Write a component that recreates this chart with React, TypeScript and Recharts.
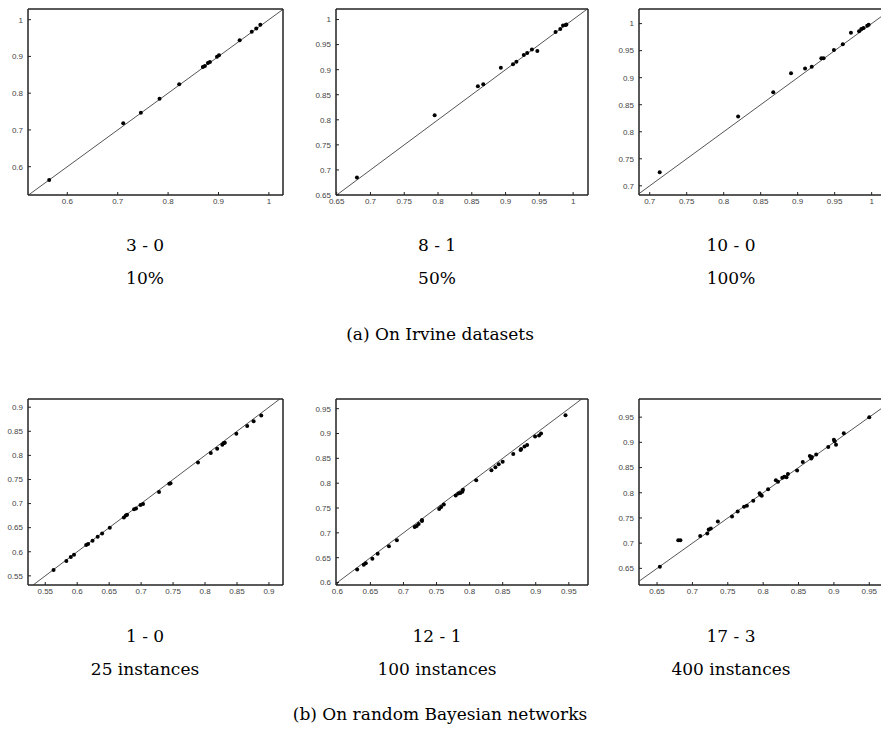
import React from 'react';
import { ScatterChart, Scatter, XAxis, YAxis, ReferenceLine, ReferenceArea } from 'recharts';

// (a) Irvine datasets
const irvine10X = [0.564, 0.711, 0.746, 0.783, 0.822, 0.869, 0.873, 0.879, 0.883, 0.897, 0.901, 0.942, 0.966, 0.975, 0.983];
const irvine10Y = [0.564, 0.718, 0.747, 0.785, 0.824, 0.871, 0.874, 0.882, 0.885, 0.899, 0.903, 0.944, 0.967, 0.976, 0.986];

const irvine50X = [0.680, 0.795, 0.859, 0.867, 0.893, 0.911, 0.916, 0.927, 0.932, 0.939, 0.947, 0.974, 0.981, 0.985, 0.989, 0.990];
const irvine50Y = [0.685, 0.809, 0.867, 0.871, 0.904, 0.911, 0.916, 0.929, 0.933, 0.940, 0.937, 0.975, 0.981, 0.988, 0.989, 0.990];

const irvine100X = [0.7135, 0.8195, 0.867, 0.891, 0.910, 0.919, 0.932, 0.935, 0.949, 0.961, 0.972, 0.983, 0.986, 0.989, 0.994, 0.996];
const irvine100Y = [0.725, 0.828, 0.873, 0.908, 0.917, 0.920, 0.936, 0.936, 0.951, 0.962, 0.983, 0.986, 0.990, 0.992, 0.996, 0.998];

// (b) random Bayesian networks
const bn25X = [0.563, 0.583, 0.590, 0.595, 0.614, 0.617, 0.624, 0.632, 0.639, 0.651, 0.673, 0.676, 0.678, 0.689, 0.692, 0.699, 0.703, 0.728, 0.744, 0.746, 0.789, 0.809, 0.819, 0.827, 0.829, 0.831, 0.849, 0.866, 0.876, 0.888];
const bn25Y = [0.562, 0.581, 0.589, 0.594, 0.614, 0.616, 0.623, 0.631, 0.638, 0.650, 0.671, 0.675, 0.677, 0.688, 0.690, 0.697, 0.699, 0.724, 0.741, 0.742, 0.785, 0.805, 0.814, 0.822, 0.825, 0.826, 0.845, 0.861, 0.871, 0.883];

const bn100X = [0.630, 0.640, 0.643, 0.653, 0.661, 0.678, 0.690, 0.717, 0.720, 0.723, 0.728, 0.728, 0.754, 0.757, 0.761, 0.779, 0.783, 0.786, 0.789, 0.790, 0.810, 0.833, 0.839, 0.844, 0.850, 0.866, 0.877, 0.878, 0.883, 0.887, 0.899, 0.905, 0.908, 0.945];
const bn100Y = [0.626, 0.636, 0.639, 0.648, 0.658, 0.673, 0.685, 0.712, 0.714, 0.718, 0.724, 0.726, 0.748, 0.752, 0.757, 0.775, 0.779, 0.780, 0.783, 0.787, 0.806, 0.826, 0.832, 0.838, 0.843, 0.859, 0.867, 0.869, 0.874, 0.877, 0.894, 0.896, 0.900, 0.937];

const bn400X = [0.654, 0.680, 0.683, 0.711, 0.721, 0.723, 0.726, 0.736, 0.756, 0.764, 0.773, 0.777, 0.786, 0.795, 0.796, 0.798, 0.807, 0.818, 0.821, 0.827, 0.830, 0.833, 0.835, 0.848, 0.856, 0.866, 0.868, 0.869, 0.875, 0.892, 0.900, 0.901, 0.903, 0.914, 0.950];
const bn400Y = [0.653, 0.706, 0.706, 0.714, 0.719, 0.727, 0.729, 0.743, 0.753, 0.763, 0.772, 0.774, 0.784, 0.799, 0.796, 0.794, 0.807, 0.825, 0.822, 0.830, 0.832, 0.831, 0.837, 0.844, 0.861, 0.873, 0.868, 0.871, 0.876, 0.891, 0.905, 0.902, 0.895, 0.918, 0.950];

// tick labels
const ticksTenths = [0.6, 0.7, 0.8, 0.9, 1];
const ticks65to1 = [0.65, 0.7, 0.75, 0.8, 0.85, 0.9, 0.95, 1];
const ticks70to1 = [0.7, 0.75, 0.8, 0.85, 0.9, 0.95, 1];
const ticks55to90 = [0.55, 0.6, 0.65, 0.7, 0.75, 0.8, 0.85, 0.9];
const ticks60to95 = [0.6, 0.65, 0.7, 0.75, 0.8, 0.85, 0.9, 0.95];
const ticks65to95 = [0.65, 0.7, 0.75, 0.8, 0.85, 0.9, 0.95];

// captions
const topScores = ['3 - 0', '8 - 1', '10 - 0'];
const topSizes = ['10%', '50%', '100%'];
const bottomScores = ['1 - 0', '12 - 1', '17 - 3'];
const bottomSizes = ['25 instances', '100 instances', '400 instances'];
const captionA = '(a) On Irvine datasets';
const captionB = '(b) On random Bayesian networks';

const YW = 30;
const XH = 20;
const PLOT_H = 186;
const colLeft = [28, 336, 639];
const colWidth = [255, 252, 243];
const colCenter = [145, 437, 731];
const rowTop = [9, 399];

const axisStroke = '#222';
const tickFont = { fontSize: 8, fill: '#444', fontFamily: 'Liberation Sans, Arial, sans-serif' };

const Dot = (props: any) => <circle cx={props.cx} cy={props.cy} r={2} fill="#000" />;

interface PanelProps {
  xs: number[];
  ys: number[];
  xDomain: [number, number];
  yDomain: [number, number];
  xTicks: number[];
  yTicks: number[];
  left: number;
  top: number;
  plotW: number;
}

const Panel: React.FC<PanelProps> = ({ xs, ys, xDomain, yDomain, xTicks, yTicks, left, top, plotW }) => {
  const data = xs.map((x, i) => ({ x, y: ys[i] }));
  const lo = Math.max(xDomain[0], yDomain[0]);
  const hi = Math.min(xDomain[1], yDomain[1]);
  return (
    <div style={{ position: 'absolute', left: left - YW, top: top - 1 }}>
      <ScatterChart
        width={YW + plotW + 1}
        height={PLOT_H + XH + 1}
        margin={{ top: 0, right: 0, bottom: 0, left: 0 }}
        style={{ overflow: 'visible' }}
      >
        <XAxis
          type="number" dataKey="x" domain={xDomain} allowDataOverflow ticks={xTicks} interval={0}
          height={XH} tickSize={-3} tickMargin={6}
          axisLine={{ stroke: axisStroke }} tickLine={{ stroke: axisStroke }} tick={tickFont}
        />
        <XAxis
          xAxisId="top" orientation="top" type="number" domain={xDomain} allowDataOverflow ticks={xTicks}
          interval={0} height={1} tickSize={-3} tick={false}
          axisLine={{ stroke: axisStroke }} tickLine={{ stroke: axisStroke }}
        />
        <YAxis
          type="number" dataKey="y" domain={yDomain} allowDataOverflow ticks={yTicks} interval={0}
          width={YW} tickSize={-3} tickMargin={8}
          axisLine={{ stroke: axisStroke }} tickLine={{ stroke: axisStroke }} tick={tickFont}
        />
        <YAxis
          yAxisId="right" orientation="right" type="number" domain={yDomain} allowDataOverflow ticks={yTicks}
          interval={0} width={1} tickSize={-3} tick={false}
          axisLine={{ stroke: axisStroke }} tickLine={{ stroke: axisStroke }}
        />
        <ReferenceArea
          x1={xDomain[0]} x2={xDomain[1]} y1={yDomain[0]} y2={yDomain[1]}
          fill="none" fillOpacity={0} stroke={axisStroke} strokeWidth={1} ifOverflow="visible"
        />
        <ReferenceLine
          segment={[{ x: lo, y: lo }, { x: hi, y: hi }]}
          stroke="#555" strokeWidth={1} ifOverflow="visible"
        />
        <Scatter data={data} shape={Dot} isAnimationActive={false} />
      </ScatterChart>
    </div>
  );
};

export default function App() {
  const serif = 'DejaVu Serif, serif';
  return (
    <div style={{ position: 'absolute', left: 0, top: 0, width: 881, height: 740, overflow: 'hidden', background: '#fff' }}>
      <Panel xs={irvine10X} ys={irvine10Y} xDomain={[0.522, 1.028]} yDomain={[0.523, 1.029]}
        xTicks={ticksTenths} yTicks={ticksTenths} left={colLeft[0]} top={rowTop[0]} plotW={colWidth[0]} />
      <Panel xs={irvine50X} ys={irvine50Y} xDomain={[0.649, 1.022]} yDomain={[0.65, 1.021]}
        xTicks={ticks65to1} yTicks={ticks65to1} left={colLeft[1]} top={rowTop[0]} plotW={colWidth[1]} />
      <Panel xs={irvine100X} ys={irvine100Y} xDomain={[0.6855, 1.014]} yDomain={[0.683, 1.027]}
        xTicks={ticks70to1} yTicks={ticks70to1} left={colLeft[2]} top={rowTop[0]} plotW={colWidth[2]} />
      <Panel xs={bn25X} ys={bn25Y} xDomain={[0.523, 0.922]} yDomain={[0.531, 0.917]}
        xTicks={ticks55to90} yTicks={ticks55to90} left={colLeft[0]} top={rowTop[1]} plotW={colWidth[0]} />
      <Panel xs={bn100X} ys={bn100Y} xDomain={[0.598, 0.979]} yDomain={[0.595, 0.9695]}
        xTicks={ticks60to95} yTicks={ticks60to95} left={colLeft[1]} top={rowTop[1]} plotW={colWidth[1]} />
      <Panel xs={bn400X} ys={bn400Y} xDomain={[0.6245, 0.968]} yDomain={[0.617, 0.986]}
        xTicks={ticks65to95} yTicks={ticks65to95} left={colLeft[2]} top={rowTop[1]} plotW={colWidth[2]} />

      <svg width={881} height={740} style={{ position: 'absolute', left: 0, top: 0, pointerEvents: 'none' }}>
        <g fontFamily={serif} fontSize={17} fill="#000" textAnchor="middle">
          {topScores.map((t, i) => <text key={'ts' + i} x={colCenter[i]} y={251}>{t}</text>)}
          {topSizes.map((t, i) => <text key={'tz' + i} x={colCenter[i]} y={284}>{t}</text>)}
          <text x={440} y={340}>{captionA}</text>
          {bottomScores.map((t, i) => <text key={'bs' + i} x={colCenter[i]} y={642}>{t}</text>)}
          {bottomSizes.map((t, i) => <text key={'bz' + i} x={colCenter[i]} y={675}>{t}</text>)}
          <text x={440} y={720}>{captionB}</text>
        </g>
      </svg>
    </div>
  );
}
